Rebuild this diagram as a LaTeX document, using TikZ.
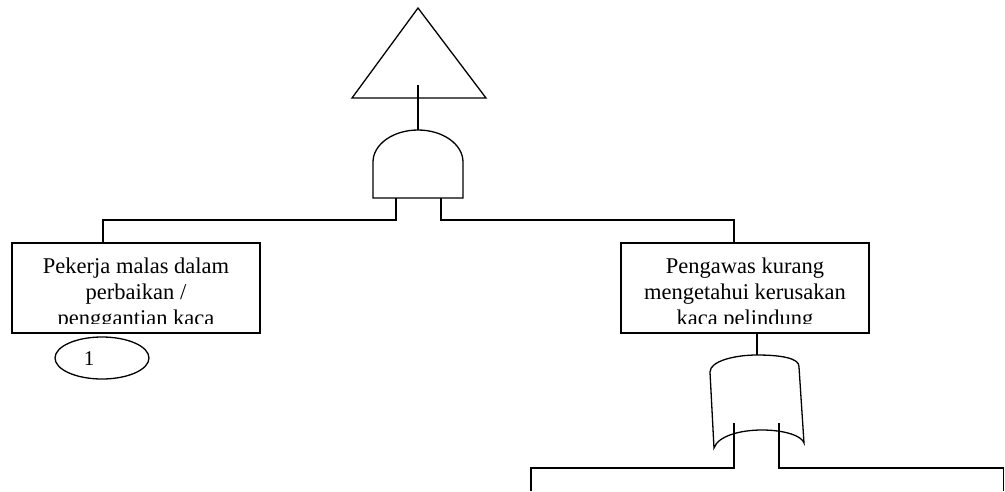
\documentclass[tikz,border=0pt]{standalone}
\usepackage{fontspec}
\setmainfont{Liberation Serif}
\usetikzlibrary{shapes.geometric}
\begin{document}
\begin{tikzpicture}[x=1pt, y=-1pt, line width=1.3pt, line join=miter,
  eventbox/.style={draw, rectangle, minimum width=248pt, minimum height=90pt, inner sep=0pt},
  eventtext/.style={anchor=base, inner sep=0pt, font=\fontsize{22.5}{26}\selectfont},
  gate/.style={draw, line width=1.3pt}]
\useasboundingbox (0,0) rectangle (1005,491);

% top event (transfer triangle)
\draw[gate] (418,8) -- (486,98) -- (352,98) -- cycle;
\coordinate (topout) at (418,85);

% AND gate
\coordinate (andtop) at (418,130);
\coordinate (andL) at (396,198);
\coordinate (andR) at (441,198);
\draw[gate] (373,198) -- (373,162) arc[start angle=180, end angle=360, x radius=45, y radius=32] -- (463,198) -- cycle;
\draw (topout) -- (andtop);

% basic events
\node[eventbox] (lbox) at (136,288) {};
\node[eventbox] (rbox) at (745,288) {};
\begin{scope}
  \clip (12,243) rectangle (260,323);
  \node[eventtext] (ltext) at (136,273) {\begin{tabular}[t]{@{}c@{}}Pekerja malas dalam\\perbaikan /\\penggantian kaca\end{tabular}};
\end{scope}
\begin{scope}
  \clip (621,243) rectangle (869,323);
  \node[eventtext] (rtext) at (745,273) {\begin{tabular}[t]{@{}c@{}}Pengawas kurang\\mengetahui kerusakan\\kaca pelindung\end{tabular}};
\end{scope}

\draw (andL) -- ++(0,22) -| ([xshift=-33pt]lbox.north);
\draw (andR) -- ++(0,22) -| ([xshift=-11pt]rbox.north);

% transfer symbol
\node[draw, ellipse, minimum width=94pt, minimum height=42pt, inner sep=0pt] (transfer) at (102,358) {};
\node[anchor=base, inner sep=0pt, font=\fontsize{21}{24}\selectfont] (transferno) at (89,365.5) {1};

% OR gate
\coordinate (ortop) at (757,355);
\coordinate (orL) at (734,423);
\coordinate (orR) at (779,423);
\draw[gate] (710,372) .. controls (710,361) and (735,355) .. (757,355)
  .. controls (780,355) and (800,358) .. (799,367)
  -- (804,443)
  .. controls (802,436) and (785,430) .. (762,430)
  .. controls (740,430) and (718,436) .. (714,448)
  -- cycle;
\draw ([xshift=12pt]rbox.south) -- (ortop);

% lower events
\coordinate (leafL) at (531,491);
\coordinate (leafR) at (1003.5,491);
\draw (orL) -- ++(0,45) -| (leafL);
\draw (orR) -- ++(0,45) -| (leafR);
\end{tikzpicture}
\end{document}
